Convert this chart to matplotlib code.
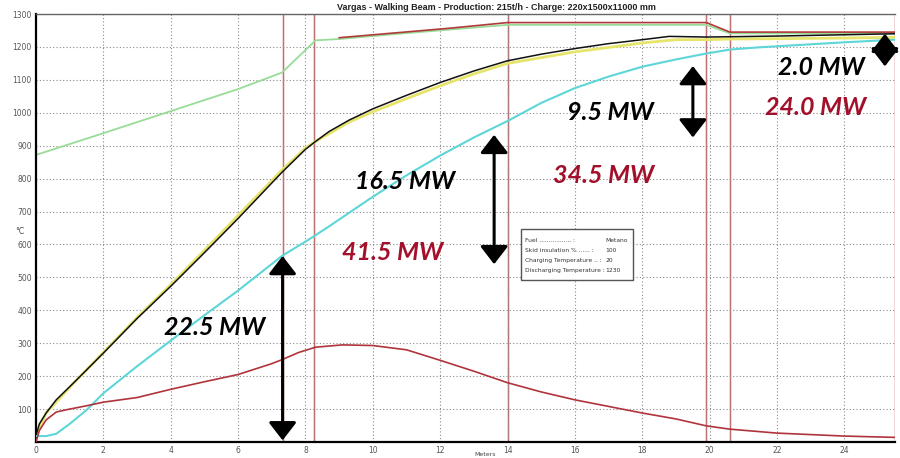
import matplotlib
matplotlib.use("Agg")
import matplotlib.pyplot as plt

# Datos (metros / grados C)
x_verde = [0, 2, 4, 6, 7.3, 8.3, 9, 11, 14, 19.9, 20.6, 25.5]
t_verde = [872, 938, 1005, 1072, 1122, 1220, 1224, 1242, 1267, 1267, 1241, 1241]

x_rojo_sup = [9, 12.3, 14, 19.9, 20.6, 25.5]
t_rojo_sup = [1228, 1257, 1274, 1274, 1245, 1245]

x_negro = [0, 0.1, 0.3, 0.6, 1.2, 2, 3, 4, 5, 6, 7.3, 8, 8.3, 8.7, 9.3, 10, 11,
           12, 13, 14, 15, 16, 17, 18, 18.8, 19.9, 20.6, 22, 24, 25.5]
t_negro = [20, 55, 88, 128, 188, 270, 375, 473, 575, 679, 819, 889, 913, 943,
           978, 1012, 1053, 1092, 1127, 1158, 1178, 1195, 1210, 1222, 1232,
           1230, 1231, 1233, 1237, 1240]

x_amarillo = [0, 0.3, 1.2, 2, 3, 4, 5, 6, 7.3, 8, 8.3, 9.3, 10, 11, 12, 13, 14,
              16, 18, 19, 19.9, 20.6, 22, 24, 25.5]
t_amarillo = [20, 88, 188, 272, 378, 478, 582, 688, 826, 893, 913, 972, 1003,
              1043, 1082, 1118, 1150, 1185, 1212, 1222, 1222, 1224, 1225, 1227, 1229]

x_cian = [0, 0.3, 0.6, 1, 1.5, 2, 3, 4, 5, 6, 7.3, 8.1, 8.7, 10, 11, 12, 13, 14,
          15, 16, 17, 18, 19, 19.9, 20.6, 21.5, 22.5, 24, 25.5]
t_cian = [18, 18, 25, 55, 97, 148, 230, 308, 385, 460, 565, 615, 655, 745, 810,
          870, 925, 975, 1030, 1075, 1110, 1140, 1162, 1180, 1192, 1199, 1205,
          1214, 1222]

x_rojo_inf = [0, 0.1, 0.3, 0.6, 1, 1.5, 2, 3, 4, 5, 6, 7, 7.3, 7.8, 8.3, 9.1, 10,
              11, 12, 13, 14, 15, 16, 17, 18, 19, 19.9, 20.6, 22, 24, 25.5]
t_rojo_inf = [0, 35, 67, 91, 100, 110, 121, 135, 160, 183, 205, 238, 250, 272,
              288, 295, 293, 280, 248, 215, 180, 152, 128, 108, 88, 70, 49, 39,
              27, 18, 14]

# Limites de zona
zonas = [7.32, 8.26, 14, 19.9, 20.6, 25.5]

# Flechas de potencia: (x, t_inferior, t_superior)
flechas = [(7.32, 5, 565), (13.6, 540, 933), (19.5, 925, 1142), (25.2, 1141, 1240)]

# Etiquetas de potencia: (texto, x, t, color)
etiquetas = [
    ("22.5 MW", 5.3, 347, "black"),
    ("16.5 MW", 10.95, 792, "black"),
    ("41.5 MW", 10.6, 577, "#a3102c"),
    ("9.5 MW", 17.05, 1000, "black"),
    ("34.5 MW", 16.85, 808, "#a3102c"),
    ("2.0 MW", 23.3, 1138, "black"),
    ("24.0 MW", 23.15, 1015, "#a3102c"),
]

titulo = "Vargas - Walking Beam - Production: 215t/h - Charge: 220x1500x11000 mm"
info = [("Fuel ................. :", "Metano"),
        ("Skid insulation % ...... :", "100"),
        ("Charging Temperature .. :", "20"),
        ("Discharging Temperature :", "1230")]

fig = plt.figure(figsize=(9, 4.58), dpi=100)
ax = fig.add_axes([36 / 900, 16 / 458, 859 / 900, 428 / 458])

# Grid punteado
ax.set_xlim(0, 25.5)
ax.set_ylim(0, 1300)
ax.set_xticks(range(0, 25, 2))
ax.set_yticks(range(100, 1301, 100))
ax.grid(True, color="#8a8a8a", linestyle=(0, (1, 2)), linewidth=0.8)
ax.tick_params(length=0, labelsize=5.5, labelcolor="#555555", pad=3)

for s in ["left", "bottom"]:
    ax.spines[s].set_linewidth(1.6)
    ax.spines[s].set_color("black")
ax.spines["top"].set_color("#666666")
ax.spines["top"].set_linewidth(1)
ax.spines["right"].set_visible(False)

for z in zonas:
    ax.axvline(z, color="#f0d4d4", linewidth=1.8, zorder=1)
    ax.axvline(z, color="#c07272", linewidth=0.8, zorder=1.1)

# Curvas
ax.plot(x_verde, t_verde, color="#98dc98", linewidth=1.3, zorder=2)
ax.plot(x_rojo_sup, t_rojo_sup, color="#b03a3a", linewidth=1.2, zorder=3)
ax.plot(x_amarillo, t_amarillo, color="#e6e46a", linewidth=2.0, zorder=2)
ax.plot(x_negro, t_negro, color="#111111", linewidth=1.1, zorder=3)
ax.plot(x_cian, t_cian, color="#5ed6d8", linewidth=1.5, zorder=3)
ax.plot(x_rojo_inf, t_rojo_inf, color="#b0343c", linewidth=1.2, zorder=3)

# Flechas dobles
for xf, t0, t1 in flechas:
    ax.annotate("", xy=(xf, t1), xytext=(xf, t0),
                arrowprops=dict(arrowstyle="<|-|>,head_length=1.1,head_width=0.85",
                                mutation_scale=10, color="black", linewidth=2.2,
                                shrinkA=0, shrinkB=0),
                zorder=6)

for texto, xt, tt, col in etiquetas:
    ax.text(xt, tt, texto, color=col, fontsize=18, fontweight="bold",
            fontstyle="italic", family="Lato", ha="center", va="center", zorder=7)

# Cuadro de informacion
caja = plt.Rectangle((521 / 900, 1 - 280 / 458), 112 / 900, 51 / 458,
                     transform=fig.transFigure, facecolor="white",
                     edgecolor="#555555", linewidth=1, zorder=8)
fig.patches.append(caja)
for i, (k, v) in enumerate(info):
    yy = 1 - (240.5 + i * 10) / 458
    fig.text(525 / 900, yy, k, fontsize=4.3, color="#333333", va="center", zorder=9)
    fig.text(605 / 900, yy, v, fontsize=4.3, color="#333333", va="center",
             zorder=9)

fig.text(496 / 900, 1 - 8 / 458, titulo, fontsize=6.5, fontweight="bold",
         color="#222222", ha="center", va="center", family="Liberation Sans")
fig.text(485 / 900, 1 - 455 / 458, "Meters", fontsize=4.5, color="#444444",
         ha="center", va="center")
fig.text(20 / 900, 1 - 232 / 458, "°C", fontsize=5.5, color="#444444",
         ha="center", va="center")

fig.savefig("out.png", dpi=100)
